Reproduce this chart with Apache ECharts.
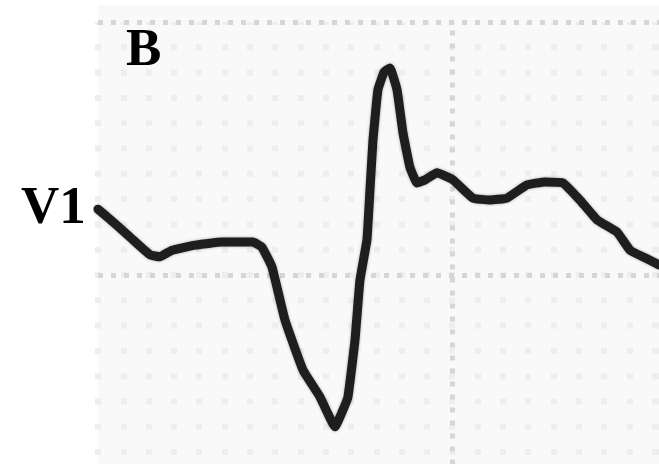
<!DOCTYPE html>
<html>
<head>
<meta charset="utf-8">
<title>V1</title>
<script src="https://cdn.jsdelivr.net/npm/echarts@6/dist/echarts.min.js"></script>
<style>
  html, body { margin: 0; padding: 0; background: #ffffff; }
  #chart { width: 659px; height: 464px; }
</style>
</head>
<body>
<div id="chart"></div>
<script>
// Lead V1 trace: time (ms) and amplitude (mV)
const timeMs = [0, 9.5, 25.3, 41.1, 49.0, 58.5, 76.7, 98.0, 122.5, 129.6, 137.5, 147.8, 162.1, 175.5, 187.4,
  192.9, 197.6, 203.2, 207.1, 212.6, 215.0, 217.4, 221.3, 226.1, 230.8, 236.4, 241.1, 246.6, 252.2, 258.5,
  268.0, 280.6, 296.4, 309.9, 323.3, 339.1, 353.4, 367.6, 381.0, 394.5, 410.3, 420.6, 432.4, 443.5];
const voltageMv = [0.130, 0.110, 0.075, 0.040, 0.036, 0.049, 0.059, 0.065, 0.065, 0.055, 0.016, -0.089, -0.188, -0.241, -0.300,
  -0.271, -0.241, -0.128, -0.010, 0.069, 0.168, 0.267, 0.366, 0.401, 0.409, 0.366, 0.281, 0.213, 0.182, 0.188,
  0.202, 0.188, 0.152, 0.148, 0.152, 0.178, 0.184, 0.182, 0.148, 0.109, 0.085, 0.049, 0.034, 0.020];

// Heavy grid lines of the paper
const majorTimesMs = [280];
const majorLevelsMv = [0, 0.5];

// Labels
const panelLabel = 'B';
const leadLabel = 'V1';

const chart = echarts.init(document.getElementById('chart'), null, { renderer: 'canvas' });

const traceData = timeMs.map((t, i) => [t, voltageMv[i]]);

const guideLines = [
  ...majorTimesMs.map(v => ({ xAxis: v })),
  ...majorLevelsMv.map(v => ({ yAxis: v }))
];

const labelFont = 'bold 53px "Liberation Serif", "Times New Roman", serif';

chart.setOption({
  animation: false,
  backgroundColor: '#ffffff',
  // 0.5 mV spans 253 px; the paper runs past the bottom edge
  grid: {
    left: 98, width: 561, top: 22, height: 455.4,
    outerBoundsMode: 'none',
    containLabel: false,
    show: false
  },
  xAxis: {
    type: 'value',
    min: 0,
    max: 443.5,
    interval: 20,
    axisLine: { show: false },
    axisTick: { show: false },
    axisLabel: { show: false },
    splitLine: {
      show: true,
      lineStyle: { color: '#eeeeee', width: 6, type: [6, 19.3], dashOffset: 3 }
    }
  },
  yAxis: {
    type: 'value',
    min: -0.4,
    max: 0.5,
    interval: 0.05,
    axisLine: { show: false },
    axisTick: { show: false },
    axisLabel: { show: false },
    splitLine: { show: false }
  },
  graphic: [
    {
      type: 'rect',
      z: -10,
      silent: true,
      shape: { x: 98, y: 5, width: 561, height: 459 },
      style: { fill: '#f9f9f9' }
    },
    {
      type: 'text',
      z: 10,
      style: { text: panelLabel, x: 126, y: 25, font: labelFont, fill: '#000000' }
    },
    {
      type: 'text',
      z: 10,
      style: { text: leadLabel, x: 21, y: 183, font: labelFont, fill: '#000000' }
    }
  ],
  series: [
    {
      name: 'grid',
      type: 'line',
      data: [],
      z: 1,
      silent: true,
      markLine: {
        silent: true,
        symbol: 'none',
        label: { show: false },
        lineStyle: { color: '#d6d6d6', width: 5, type: [5, 8], opacity: 1 },
        data: guideLines
      }
    },
    {
      name: 'V1',
      type: 'line',
      z: 5,
      data: traceData,
      showSymbol: false,
      smooth: 0.1,
      lineStyle: {
        color: '#1e1e1e',
        width: 9,
        cap: 'round',
        join: 'round',
        shadowColor: 'rgba(0,0,0,0.35)',
        shadowBlur: 3
      }
    }
  ]
});
</script>
</body>
</html>
